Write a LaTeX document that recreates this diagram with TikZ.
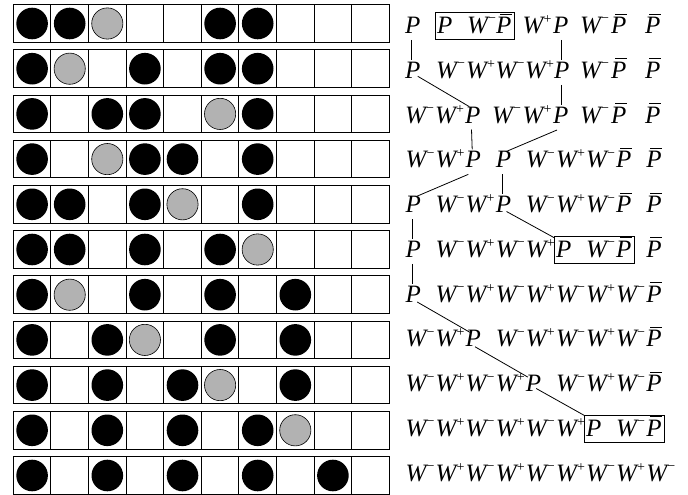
\documentclass[tikz,border=0pt]{standalone}
\usepackage{fontspec}
\setmainfont{Liberation Serif}
\usetikzlibrary{calc}
\newcommand\supm{\raisebox{10.5pt}{\fontsize{14}{14}\selectfont\upshape −}}
\newcommand\supp{\raisebox{10pt}{\fontsize{14}{14}\selectfont\upshape +}}
\newcommand\tkP{P}
\newcommand\tkM{W\kern0.2pt\supm}
\newcommand\tkQ{W\kern0.2pt\supp}
\newcommand\tkB{\rlap{\kern4pt\rule[19pt]{11.5pt}{0.9pt}}P}
\begin{document}
\begin{tikzpicture}[x=1pt,y=-1pt,
  tok/.style={anchor=base west, inner sep=0pt, outer sep=0pt, font=\fontsize{25}{28}\selectfont\itshape},
  cell/.style={draw=black, line width=1pt},
  gry/.style={fill=black!30, draw=black, line width=0.6pt},
  conn/.style={line width=0.8pt},
  hl/.style={draw=black, line width=0.8pt}]
\fill[white] (0,0) rectangle (688,495);
\useasboundingbox (0,0) rectangle (688,495);
% grid of cells with beads
\foreach \pat [count=\i from 0] in {
  {1,1,2,0,0,1,1,0,0,0},
  {1,2,0,1,0,1,1,0,0,0},
  {1,0,1,1,0,2,1,0,0,0},
  {1,0,2,1,1,0,1,0,0,0},
  {1,1,0,1,2,0,1,0,0,0},
  {1,1,0,1,0,1,2,0,0,0},
  {1,2,0,1,0,1,0,1,0,0},
  {1,0,1,2,0,1,0,1,0,0},
  {1,0,1,0,1,2,0,1,0,0},
  {1,0,1,0,1,0,1,2,0,0},
  {1,0,1,0,1,0,1,0,1,0}} {
  \foreach \c [count=\j from 0] in \pat {
    \draw[cell] ({13.3+37.6*\j},{4.7+45.2*\i}) rectangle ++(37.6,37.6);
    \ifnum\c=1 \fill[black] ({13.3+37.6*\j+18.8},{4.7+45.2*\i+18.8}) circle (15.8pt); \fi
    \ifnum\c=2 \filldraw[gry] ({13.3+37.6*\j+18.8},{4.7+45.2*\i+18.8}) circle (15.6pt); \fi
  }
}
% symbol rows: token/x-position
\foreach \toks [count=\i] in {
  {P/405,P/437,M/467,B/496,Q/522.5,P/553,M/580,B/611,B/645},
  {P/405,M/436,Q/466,M/495.5,Q/525,P/554,M/580,B/611,B/645},
  {M/405,Q/435,P/465,M/492,Q/522.5,P/553,M/580,B/611,B/645},
  {M/405.5,Q/435.6,P/465.7,P/495.8,M/525.9,Q/556,M/586.1,B/616.2,B/646.3},
  {P/405.5,M/435.6,Q/465.7,P/495.8,M/525.9,Q/556,M/586.1,B/616.2,B/646.3},
  {P/405.5,M/435.6,Q/465.7,M/495.8,Q/525.9,P/556,M/586.1,B/616.2,B/646.3},
  {P/405.5,M/435.6,Q/465.7,M/495.8,Q/525.9,M/556,Q/586.1,M/616.2,B/646.3},
  {M/405.5,Q/435.6,P/465.7,M/495.8,Q/525.9,M/556,Q/586.1,M/616.2,B/646.3},
  {M/405.5,Q/435.6,M/465.7,Q/495.8,P/525.9,M/556,Q/586.1,M/616.2,B/646.3},
  {M/405.5,Q/435.6,M/465.7,Q/495.8,M/525.9,Q/556,P/586.1,M/616.2,B/646.3},
  {M/405.5,Q/435.6,M/465.7,Q/495.8,M/525.9,Q/556,M/586.1,Q/616.2,M/646.3}} {
  \foreach \t/\x [count=\k] in \toks {
    \node[tok] (r\i-\k) at (\x,{33.5+44.75*(\i-1)}) {\csname tk\t\endcsname};
  }
}
% boxes
\draw[hl] ([shift={(-2pt,-5.7pt)}]r1-2.base west) rectangle ([shift={(3pt,20.6pt)}]r1-4.base east);
\draw[hl] ([shift={(-2pt,-5.7pt)}]r6-6.base west) rectangle ([shift={(3pt,20.6pt)}]r6-8.base east);
\draw[hl] ([shift={(-2pt,-5.7pt)}]r10-7.base west) rectangle ([shift={(3pt,20.6pt)}]r10-9.base east);
% vertical connectors
\draw[conn] ([shift={(6.5pt,-6.5pt)}]r1-1.base west) -- ([shift={(6.5pt,2pt)}]r2-1.north west);
\draw[conn] ([shift={(8.5pt,-6.5pt)}]r1-6.base west) -- ([shift={(7.5pt,2pt)}]r2-6.north west);
\draw[conn] ([shift={(7.5pt,-6.5pt)}]r2-6.base west) -- ([shift={(8.5pt,2pt)}]r3-6.north west);
\draw[conn] ([shift={(6.5pt,-6.5pt)}]r3-3.base west) -- ([shift={(6.5pt,2pt)}]r4-3.north west);
\draw[conn] ([shift={(6.5pt,-6.5pt)}]r4-4.base west) -- ([shift={(6.5pt,2pt)}]r5-4.north west);
\draw[conn] ([shift={(6.5pt,-6.5pt)}]r5-1.base west) -- ([shift={(6.5pt,2pt)}]r6-1.north west);
\draw[conn] ([shift={(6.5pt,-6.5pt)}]r6-1.base west) -- ([shift={(6.5pt,2pt)}]r7-1.north west);
% diagonal connectors
\draw[conn] ([shift={(12.7pt,2pt)}]r2-1.base west) -- ([shift={(4.3pt,0pt)}]r3-3.north west);
\draw[conn] ([shift={(4pt,-7pt)}]r3-6.base west) -- ([shift={(10.7pt,0pt)}]r4-4.north west);
\draw[conn] ([shift={(2.6pt,-6.6pt)}]r4-3.base west) -- ([shift={(11.7pt,0pt)}]r5-1.north west);
\draw[conn] ([shift={(10.7pt,1pt)}]r5-4.base west) -- ([shift={(-1.5pt,3pt)}]r6-6.north west);
\draw[conn] ([shift={(11.7pt,0pt)}]r7-1.base west) -- ([shift={(4.3pt,-2pt)}]r8-3.north west);
\draw[conn] ([shift={(9.3pt,0pt)}]r8-3.base west) -- ([shift={(2pt,-2pt)}]r9-5.north west);
\draw[conn] ([shift={(10.3pt,3pt)}]r9-5.base west) -- ([shift={(-1pt,4pt)}]r10-7.north west);
\end{tikzpicture}
\end{document}
